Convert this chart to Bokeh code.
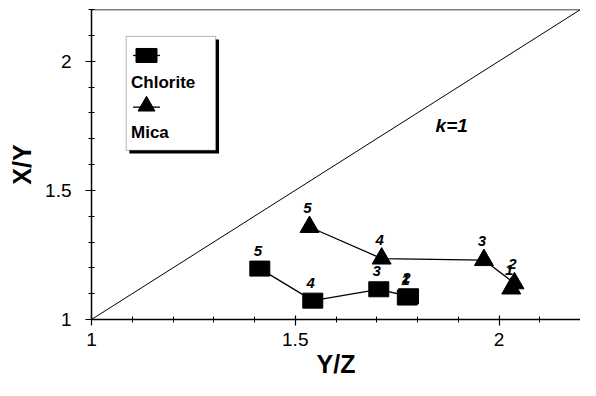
from bokeh.plotting import figure
from bokeh.models import (Range1d, FixedTicker, Span, Label, BoxAnnotation, ColumnDataSource)
from bokeh.core.properties import value
from bokeh.embed import file_html
from bokeh.resources import INLINE

# ---- data ----
point_labels = ["1", "2", "3", "4", "5"]
chlorite_x = [1.775, 1.778, 1.705, 1.543, 1.413]
chlorite_y = [1.085, 1.090, 1.117, 1.073, 1.197]
mica_x = [2.030, 2.038, 1.963, 1.712, 1.535]
mica_y = [1.120, 1.140, 1.230, 1.236, 1.358]
ref_line_x = [1.0, 2.2]
ref_line_y = [1.0, 2.2]
major_ticks = [1.0, 1.5, 2.0]
minor_ticks = [1.1, 1.2, 1.3, 1.4, 1.6, 1.7, 1.8, 1.9, 2.1, 2.2]
x_title = "Y/Z"
y_title = "X/Y"
series_names = ["Chlorite", "Mica"]

FONT = "Liberation Sans"

p = figure(width=580, height=380, output_backend="svg", toolbar_location=None,
           x_range=Range1d(1.0, 2.2), y_range=Range1d(1.0, 2.2),
           min_border_left=91, min_border_top=9, min_border_right=0, min_border_bottom=50)
p.background_fill_color = "white"
p.border_fill_color = "white"
p.outline_line_color = None
p.grid.visible = False

for ax in (p.xaxis[0], p.yaxis[0]):
    ax.ticker = FixedTicker(ticks=major_ticks, minor_ticks=minor_ticks)
    ax.axis_line_color = "black"
    ax.axis_line_width = 1.5
    ax.major_tick_line_color = "black"
    ax.minor_tick_line_color = "black"
    ax.major_tick_line_width = 1.2
    ax.minor_tick_line_width = 1
    ax.major_tick_in = 4
    ax.major_tick_out = 6
    ax.minor_tick_in = 3
    ax.minor_tick_out = 3
    ax.major_label_text_font = FONT
    ax.major_label_text_font_size = "19px"
    ax.major_label_text_color = "black"
    ax.axis_label_text_font = FONT
    ax.axis_label_text_font_size = "25px"
    ax.axis_label_text_font_style = "bold"
    ax.axis_label_text_color = "black"

p.xaxis[0].axis_label = x_title
p.yaxis[0].axis_label = y_title
p.xaxis[0].major_label_standoff = 7
p.xaxis[0].axis_label_standoff = 1
p.yaxis[0].major_label_standoff = 14
p.yaxis[0].axis_label_standoff = 6
p.yaxis[0].major_label_orientation = "horizontal"

# top frame line
p.add_layout(Span(location=2.2, dimension="width", line_color="black", line_width=1.5))

# k = 1 reference line
p.line(ref_line_x, ref_line_y, line_color="black", line_width=1)
p.add_layout(Label(x=1.884, y=1.75, text="k=1", text_font=FONT, text_font_size="19px",
                   text_font_style="bold italic", text_color="black",
                   text_align="center", text_baseline="middle"))

# Chlorite
chl = ColumnDataSource(dict(x=chlorite_x, y=chlorite_y, t=point_labels))
p.line("x", "y", source=chl, line_color="black", line_width=1.3)
p.rect("x", "y", width=20, height=15, width_units="screen", height_units="screen",
       source=chl, fill_color="black", line_color="black")
p.text("x", "y", text="t", source=chl, text_font=value(FONT), text_font_size="15px",
       text_font_style="bold italic", text_color="black",
       text_align="center", text_baseline="middle", y_offset=-18, x_offset=-2)

# Mica
mic = ColumnDataSource(dict(x=mica_x, y=mica_y, t=point_labels))
p.line("x", "y", source=mic, line_color="black", line_width=1.3)
p.scatter("x", "y", marker="triangle", size=19, source=mic, fill_color="black", line_color="black")
p.text("x", "y", text="t", source=mic, text_font=value(FONT), text_font_size="15px",
       text_font_style="bold italic", text_color="black",
       text_align="center", text_baseline="middle", y_offset=-19, x_offset=-2)

# ---- custom legend (glyph above label), placed in axis coordinates ----
lg_left, lg_right, lg_top, lg_bottom = 1.085, 1.305, 2.096, 1.655
p.add_layout(BoxAnnotation(left=lg_left + 0.008, right=lg_right + 0.008,
                           top=lg_top - 0.012, bottom=lg_bottom - 0.012,
                           fill_color="black", fill_alpha=1, line_color=None, level="annotation"))
p.add_layout(BoxAnnotation(left=lg_left, right=lg_right, top=lg_top, bottom=lg_bottom,
                           fill_color="white", fill_alpha=1, line_color="black", line_width=1,
                           level="annotation"))
sym_x = 1.135
p.segment(x0=[sym_x - 0.033, sym_x - 0.033], x1=[sym_x + 0.033, sym_x + 0.033],
          y0=[2.022, 1.822], y1=[2.022, 1.822], line_color="black", line_width=1.3, level="overlay")
p.rect(x=[sym_x], y=[2.022], width=21, height=14, width_units="screen", height_units="screen",
       fill_color="black", line_color="black", level="overlay")
p.scatter(x=[sym_x], y=[1.826], marker="triangle", size=17, fill_color="black",
          line_color="black", level="overlay")
p.add_layout(Label(x=lg_left + 0.012, y=1.918, text=series_names[0], text_font=FONT,
                   text_font_size="17px", text_font_style="bold", text_color="black",
                   text_baseline="middle", level="overlay"))
p.add_layout(Label(x=lg_left + 0.012, y=1.722, text=series_names[1], text_font=FONT,
                   text_font_size="17px", text_font_style="bold", text_color="black",
                   text_baseline="middle", level="overlay"))

open("out.html", "w").write(file_html(p, INLINE))
